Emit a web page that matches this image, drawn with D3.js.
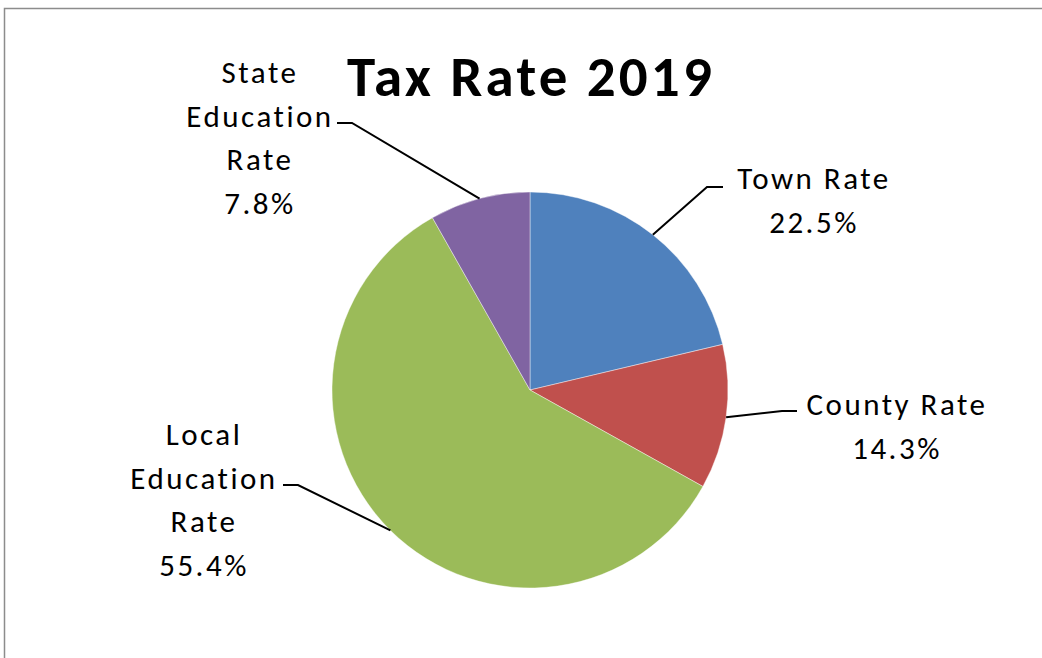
<!DOCTYPE html>
<html>
<head>
<meta charset="utf-8">
<script src="https://cdn.jsdelivr.net/npm/d3@7"></script>
<style>
  html, body { margin: 0; padding: 0; background: #fff; }
  svg { display: block; }
  text { font-family: Carlito, Lato, "Open Sans", sans-serif; fill: #000; }
</style>
</head>
<body>
<svg id="chart" width="1042" height="658"></svg>
<script>
// ---- data ----
const title = "Tax Rate 2019";
const categories = ["Town Rate", "County Rate", "Local Education Rate", "State Education Rate"];
// slice sizes as drawn in the picture
const sliceValues = [21.3, 11.8, 58.7, 8.2];
// percentages printed on the labels
const percentLabels = ["22.5%", "14.3%", "55.4%", "7.8%"];
const labelLines = [["Town Rate"], ["County Rate"], ["Local", "Education", "Rate"], ["State", "Education", "Rate"]];
const colors = ["#4F81BD", "#C0504D", "#9BBB59", "#8064A2"];

// ---- layout ----
const W = 1042, H = 658;
const cx = 530, cy = 390, R = 198;
const lineH = 43.5;
// label placement: text centre x, first baseline y, elbow point, end of leader
const labelLayout = [
  { tx: 814, ty: 189, elbow: [707, 187], end: [723, 187] },
  { tx: 897, ty: 415, elbow: [782, 411], end: [797, 411] },
  { tx: 204, ty: 445, elbow: [298, 485], end: [283, 485] },
  { tx: 260, ty: 83,  elbow: [352, 123], end: [337, 123] }
];

const svg = d3.select("#chart");

// frame
svg.append("rect")
  .attr("x", 4.5).attr("y", 8.5)
  .attr("width", W + 20).attr("height", H + 20)
  .attr("fill", "#fff")
  .attr("stroke", "#8c8c8c")
  .attr("stroke-width", 1.5);

// title
svg.append("text")
  .attr("x", 531).attr("y", 96)
  .attr("text-anchor", "middle")
  .attr("font-weight", 900)
  .attr("font-size", 57)
  .attr("letter-spacing", 3.2)
  .text(title);

const pie = d3.pie().sort(null).value(d => d)
  .startAngle(0).endAngle(2 * Math.PI);
const arcs = pie(sliceValues);
const arc = d3.arc().innerRadius(0).outerRadius(R);

const g = svg.append("g").attr("transform", `translate(${cx},${cy})`);
g.selectAll("path.slice")
  .data(arcs)
  .join("path")
  .attr("class", "slice")
  .attr("d", arc)
  .attr("fill", (d, i) => colors[i])
  .attr("stroke", "#ffffff")
  .attr("stroke-opacity", 0.6)
  .attr("stroke-width", 0.7);

// leader lines
arcs.forEach((d, i) => {
  const mid = (d.startAngle + d.endAngle) / 2;
  const px = cx + R * Math.sin(mid);
  const py = cy - R * Math.cos(mid);
  const L = labelLayout[i];
  svg.append("polyline")
    .attr("points", [[px, py], L.elbow, L.end].map(p => p.join(",")).join(" "))
    .attr("fill", "none")
    .attr("stroke", "#000")
    .attr("stroke-width", 2);
});

// labels
labelLines.forEach((lines, i) => {
  const L = labelLayout[i];
  const t = svg.append("text")
    .attr("text-anchor", "middle")
    .attr("font-size", 31)
    .attr("letter-spacing", 2.5);
  lines.concat([percentLabels[i]]).forEach((s, k) => {
    t.append("tspan").attr("x", L.tx).attr("y", L.ty + k * lineH).text(s);
  });
});
</script>
</body>
</html>
